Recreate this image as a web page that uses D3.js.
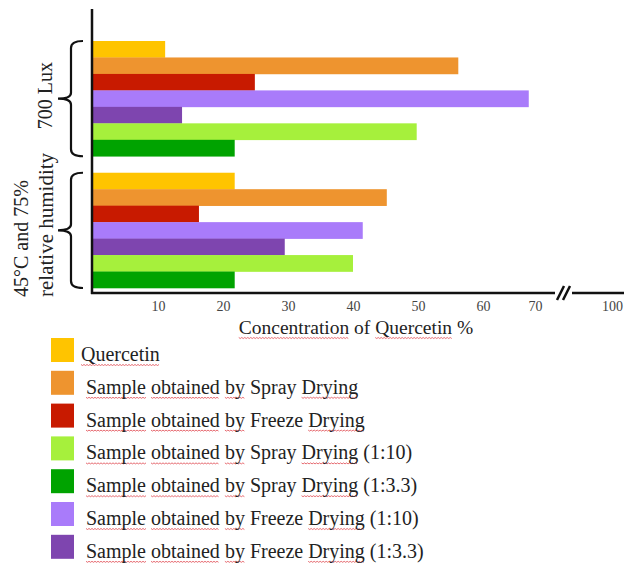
<!DOCTYPE html>
<meta charset="utf-8">
<style>
    body { margin: 0; background: #fff; }
    svg text { font-family: "Liberation Serif", "Times New Roman", serif; fill: #222; }
</style>
<svg width="624" height="563"></svg>
<script src="https://d3js.org/d3.v7.min.js"></script>
<script>

    // conditions (groups of bars), top to bottom
    var groups = ["700 Lux", "45°C and 75% relative humidity"];
    var groupLines = [["700 Lux"], ["45°C and 75%", "relative humidity"]];

    // series in legend order
    var series = [
        "Quercetin",
        "Sample obtained by Spray Drying",
        "Sample obtained by Freeze Drying",
        "Sample obtained by Spray Drying (1:10)",
        "Sample obtained by Spray Drying (1:3.3)",
        "Sample obtained by Freeze Drying (1:10)",
        "Sample obtained by Freeze Drying (1:3.3)"
    ];
    var colors = ["#ffc400", "#ee942f", "#c81a00", "#a6f03c", "#00a300", "#a97bfa", "#7e45af"];

    // order of the bars inside each group
    var barOrder = [0, 1, 2, 5, 6, 3, 4];

    // concentration of quercetin %, [700 Lux, 45°C/75% RH]
    var quercetin    = [11.1, 21.8];
    var spray        = [56.2, 45.2];
    var freeze       = [24.9, 16.3];
    var spray110     = [49.8, 40.0];
    var spray133     = [21.8, 21.8];
    var freeze110    = [68.8, 41.5];
    var freeze133    = [13.7, 29.5];
    var values = [quercetin, spray, freeze, spray110, spray133, freeze110, freeze133];

    var tickValues = [10, 20, 30, 40, 50, 60, 70, 100];

    var svg = d3.select("svg");

    // broken axis: 70 and 100 sit either side of the break
    var x = d3.scaleLinear()
        .domain([0, 60, 70, 100])
        .range([93, 483, 535, 612]);

    var y = d3.scaleBand()
        .domain(groups)
        .range([41, 288])
        .paddingInner(0.125);

    var yInner = d3.scaleBand()
        .domain(barOrder)
        .range([0, y.bandwidth()]);

    var bars = [];
    groups.forEach(function (g, gi) {
        barOrder.forEach(function (si) {
            bars.push({group: g, s: si, v: values[si][gi]});
        });
    });

    svg.append("g").selectAll("rect")
        .data(bars)
        .enter().append("rect")
        .attr("x", x(0))
        .attr("y", d => y(d.group) + yInner(d.s))
        .attr("width", d => x(d.v) - x(0))
        .attr("height", yInner.bandwidth() + 0.3)
        .attr("fill", d => colors[d.s]);

    // axes lines
    var axisY = 293;
    svg.append("line")
        .attr("x1", 92).attr("x2", 92).attr("y1", 9).attr("y2", axisY + 1)
        .attr("stroke", "#111").attr("stroke-width", 2.5);
    svg.append("line")
        .attr("x1", 91).attr("x2", 555).attr("y1", axisY).attr("y2", axisY)
        .attr("stroke", "#111").attr("stroke-width", 2.5);
    svg.append("line")
        .attr("x1", 572).attr("x2", 624).attr("y1", axisY).attr("y2", axisY)
        .attr("stroke", "#111").attr("stroke-width", 2.5);
    // break marks
    [0, 6].forEach(function (o) {
        svg.append("line")
            .attr("x1", 557 + o).attr("y1", 300)
            .attr("x2", 564 + o).attr("y2", 286)
            .attr("stroke", "#111").attr("stroke-width", 2.5);
    });

    // tick labels
    var xAxis = svg.append("g")
        .attr("transform", "translate(0," + axisY + ")")
        .call(d3.axisBottom(x).tickValues(tickValues).tickSize(0).tickPadding(8));
    xAxis.select(".domain").remove();
    xAxis.attr("font-size", null).attr("font-family", null);
    xAxis.selectAll("text")
        .style("font-size", "14px")
        .style("fill", "#444");

    // text with some words given a red wavy (spell-check) underline
    var marked = ["Concentration", "Quercetin", "Sample", "obtained", "by", "Drying"];
    var waves = svg.append("g");
    function wavyText(sel, str) {
        var words = str.split(" ");
        var spans = [];
        words.forEach(function (w, i) {
            var ts = sel.append("tspan").text(w);
            if (marked.indexOf(w) >= 0) spans.push(ts.node());
            if (i < words.length - 1) sel.append("tspan").text(" ");
        });
        spans.forEach(function (node) {
            var start = node.getStartPositionOfChar(0);
            var len = node.getComputedTextLength();
            var ctm = node.getCTM();
            var x0 = ctm.e + start.x, y0 = ctm.f + start.y + 3.5;
            var p = d3.path();
            p.moveTo(x0, y0);
            for (var k = 0; x0 + (k + 1) * 1.5 <= x0 + len; k++) {
                p.lineTo(x0 + (k + 1) * 1.5, y0 + (k % 2 === 0 ? 1 : -0) );
            }
            waves.append("path")
                .attr("d", p.toString())
                .attr("fill", "none")
                .attr("stroke", "#e0474f")
                .attr("stroke-width", 0.8);
        });
    }

    var title = svg.append("text")
        .attr("x", 356).attr("y", 334)
        .attr("text-anchor", "middle")
        .style("font-size", "19.5px")
        .style("white-space", "pre");
    wavyText(title, "Concentration of Quercetin %");

    // braces at the left of each group
    groups.forEach(function (g) {
        var t = y(g), b = y(g) + y.bandwidth(), m = (t + b) / 2, bx = 71;
        var p = d3.path();
        p.moveTo(83, t);
        p.quadraticCurveTo(bx, t, bx, t + 7);
        p.lineTo(bx, m - 6);
        p.quadraticCurveTo(bx, m, 58, m);
        p.quadraticCurveTo(bx, m, bx, m + 6);
        p.lineTo(bx, b - 7);
        p.quadraticCurveTo(bx, b, 83, b);
        svg.append("path")
            .attr("d", p.toString())
            .attr("fill", "none")
            .attr("stroke", "#111")
            .attr("stroke-width", 2.2);
    });

    // rotated group labels
    svg.append("text")
        .attr("transform", "translate(52," + (y(groups[0]) + y.bandwidth() / 2 - 3) + ") rotate(-90)")
        .attr("text-anchor", "middle")
        .style("font-size", "20px")
        .text(groupLines[0][0]);

    groupLines[1].forEach(function (line, i) {
        svg.append("text")
            .attr("transform", "translate(" + (28 + i * 25) + ",297) rotate(-90)")
            .attr("text-anchor", "start")
            .style("font-size", i === 1 ? "21px" : "20px")
            .text(line);
    });

    // legend
    var legend = svg.append("g").selectAll("g")
        .data(series)
        .enter().append("g")
        .attr("transform", (d, i) => "translate(51," + (338 + i * 32.8) + ")");

    legend.append("rect")
        .attr("width", 23)
        .attr("height", 24)
        .attr("fill", (d, i) => colors[i]);

    legend.append("text")
        .attr("x", (d, i) => i === 0 ? 30 : 35)
        .attr("y", 23)
        .style("font-size", "20px")
        .style("white-space", "pre")
        .each(function (d) { wavyText(d3.select(this), d); });

</script>
